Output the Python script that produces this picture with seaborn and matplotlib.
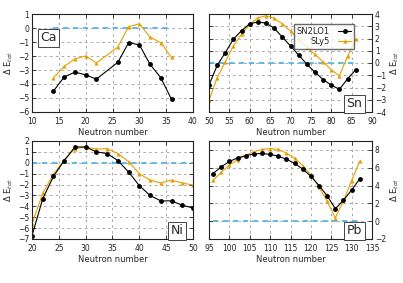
import numpy as np
import pandas as pd
import matplotlib
matplotlib.use("Agg")
import matplotlib.pyplot as plt
import seaborn as sns

# neutron numbers and Delta E_tot for each isotope chain
ca_n = [14, 16, 18, 20, 22, 26, 28, 30, 32, 34, 36]
ca_sn2lo1 = [-4.5, -3.5, -3.15, -3.35, -3.65, -2.45, -1.05, -1.2, -2.6, -3.55, -5.1]
ca_sly5 = [-3.55, -2.75, -2.2, -2.0, -2.5, -1.35, 0.1, 0.3, -0.65, -1.05, -2.1]

sn_n = [50, 52, 54, 56, 58, 60, 62, 64, 66, 68, 70, 72, 74, 76, 78, 80, 82, 84, 86]
sn_sn2lo1 = [-1.8, -0.2, 0.85, 1.95, 2.65, 3.2, 3.35, 3.25, 2.85, 2.1, 1.4, 0.65,
             -0.1, -0.75, -1.35, -1.8, -2.15, -1.3, -0.55]
sn_sly5 = [-3.05, -1.2, 0.1, 1.4, 2.35, 3.15, 3.7, 3.85, 3.65, 3.2, 2.6, 1.95,
           1.3, 0.7, 0.1, -0.55, -1.05, 0.55, 1.95]

ni_n = [20, 22, 24, 26, 28, 30, 32, 34, 36, 38, 40, 42, 44, 46, 48, 50]
ni_sn2lo1 = [-6.7, -3.3, -1.25, 0.2, 1.45, 1.45, 1.0, 0.85, 0.2, -0.85, -2.1,
             -3.0, -3.5, -3.5, -3.9, -4.15]
ni_sly5 = [-5.6, -2.8, -1.05, 0.25, 1.3, 1.45, 1.25, 1.3, 0.85, 0.1, -1.0,
           -1.6, -1.85, -1.6, -1.85, -2.05]

pb_n = [96, 98, 100, 102, 104, 106, 108, 110, 112, 114, 116, 118, 120, 122,
        124, 126, 128, 130, 132]
pb_sn2lo1 = [5.35, 6.1, 6.7, 7.1, 7.35, 7.55, 7.6, 7.5, 7.3, 6.95, 6.5, 5.85,
             5.05, 4.0, 2.85, 1.4, 2.35, 3.5, 4.75]
pb_sly5 = [4.6, 5.5, 6.3, 6.9, 7.4, 7.8, 8.05, 8.15, 8.05, 7.65, 7.05, 6.25,
           5.2, 3.8, 2.25, 0.35, 2.3, 4.55, 6.75]

sns.set_style("white")
plt.rcParams['font.family'] = ['DejaVu Sans']

BLACK = "black"
ORANGE = "#E69F00"
CYAN = "#56B4E9"

fig = plt.figure(figsize=(4.03, 2.83), dpi=100)
W, H = 403, 283
boxes = {
    "Ca": (32, 14, 193, 112),
    "Sn": (209, 14, 372, 112),
    "Ni": (32, 141, 193, 239),
    "Pb": (209, 141, 372, 239),
}
# name: data, xlim, ylim, yticks, side of y axis, label box anchor
panels = {
    "Ca": (ca_n, ca_sn2lo1, ca_sly5, (10, 40), (-6, 1), np.arange(-6, 2, 1), "left", (0.05, 0.69)),
    "Sn": (sn_n, sn_sn2lo1, sn_sly5, (50, 90), (-4, 4), np.arange(-4, 5, 1), "right", (0.94, 0.02)),
    "Ni": (ni_n, ni_sn2lo1, ni_sly5, (20, 50), (-7, 2), np.arange(-7, 3, 1), "left", (0.94, 0.02)),
    "Pb": (pb_n, pb_sn2lo1, pb_sly5, (95, 135), (-2, 9), np.arange(-2, 9, 2), "right", (0.94, 0.02)),
}

for name, (n, a, b, xl, yl, yt, side, lpos) in panels.items():
    x0, y0, x1, y1 = boxes[name]
    ax = fig.add_axes([x0 / W, 1 - y1 / H, (x1 - x0) / W, (y1 - y0) / H])
    df = pd.DataFrame({"N": n, "SN2LO1": a, "SLy5": b})
    sns.lineplot(data=df, x="N", y="SLy5", ax=ax, color=ORANGE, lw=0.8,
                 marker="^", markersize=3, markeredgewidth=0, label="SLy5")
    sns.lineplot(data=df, x="N", y="SN2LO1", ax=ax, color=BLACK, lw=0.8,
                 marker="o", markersize=3.5, markeredgewidth=0, label="SN2LO1")
    ax.plot([n[0], n[-1]], [0, 0], ls=(0, (3, 2.5)), color=CYAN, lw=1.3, zorder=1)
    ax.set_xlim(*xl)
    ax.set_ylim(*yl)
    ax.set_xticks(np.arange(xl[0], xl[1] + 1, 5))
    ax.set_yticks(yt)
    ax.grid(True, ls=(0, (3, 4)), color="#999999", lw=0.6)
    ax.tick_params(direction="in", length=3, width=0.6, labelsize=5.5, pad=2,
                   top=True, right=True, bottom=True, left=True, colors="#222222",
                   labelcolor="#222222")
    ax.tick_params(axis="x", pad=3.5)
    for s in ax.spines.values():
        s.set_linewidth(0.8)
        s.set_color("#222222")
    ax.set_xlabel("Neutron number", fontsize=6, labelpad=1.5)
    ax.set_ylabel(r"$\Delta$ E$_{tot}$", fontsize=6, labelpad=2)
    if side == "right":
        ax.yaxis.set_label_position("right")
        ax.yaxis.tick_right()
        ax.tick_params(axis="y", left=True, right=True)
    ax.text(lpos[0], lpos[1], name, transform=ax.transAxes, fontsize=9,
            ha="left" if lpos[0] < 0.5 else "right", va="bottom",
            bbox=dict(boxstyle="square,pad=0.2", fc="white", ec="#444444", lw=0.7))
    if name == "Sn":
        h, l = ax.get_legend_handles_labels()
        ax.legend(h[::-1], l[::-1], loc="upper right", fontsize=6, frameon=True,
                  fancybox=False, edgecolor="#444444", markerfirst=False,
                  handlelength=1.6, handletextpad=1.0, borderpad=0.3,
                  labelspacing=0.2, bbox_to_anchor=(0.915, 0.94))
    else:
        ax.get_legend().remove()

fig.savefig("out.png", dpi=100)
